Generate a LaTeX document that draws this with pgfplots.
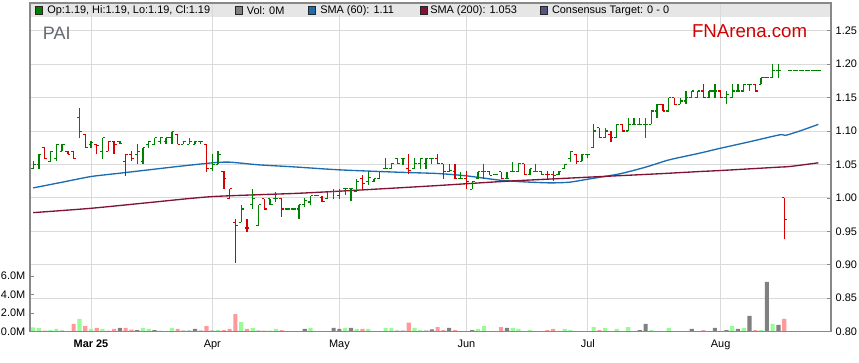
\documentclass[border=0pt]{standalone}
\usepackage{fontspec}
\setmainfont{Liberation Sans}
\usepackage{pgfplots}
\usepackage{pgfplotstable}
\pgfplotsset{compat=1.18}
\definecolor{upg}{RGB}{0,128,0}
\definecolor{dnr}{RGB}{214,0,0}
\definecolor{vg}{RGB}{152,250,152}
\definecolor{vr}{RGB}{255,153,153}
\definecolor{vk}{RGB}{128,128,128}
\definecolor{smab}{RGB}{28,108,178}
\definecolor{smam}{RGB}{128,20,52}
\definecolor{gridc}{RGB}{218,218,218}
\definecolor{framec}{RGB}{136,136,136}
\definecolor{headc}{RGB}{230,230,230}
\definecolor{slate}{RGB}{85,85,130}
\definecolor{fnred}{RGB}{210,0,0}

\pgfplotstableread{
d O H L C
-10 1.0435 1.0545 1.0435 1.05
-9 1.05 1.065 1.0435 1.065
-7 1.0545 1.0695 1.0545 1.0695
-6 1.0585 1.08 1.0545 1.08
-5 1.0695 1.08 1.0695 1.08
-2 1.12 1.135 1.09 1.099
0 1.08 1.085 1.075 1.0825
2 1.07 1.09 1.0585 1.09
5 1.085 1.085 1.08 1.082
8 1.065 1.08 1.05 1.0695
9 1.0545 1.075 1.05 1.075
10 1.08 1.085 1.075 1.085
11 1.08 1.09 1.08 1.09
12 1.085 1.09 1.08 1.09
13 1.085 1.09 1.08 1.09
14 1.09 1.099 1.08 1.099
16 1.08 1.085 1.08 1.085
17 1.08 1.09 1.08 1.085
18 1.08 1.085 1.08 1.085
19 1.085 1.085 1.08 1.085
21 1.0435 1.065 1.04 1.05
22 1.05 1.0695 1.05 1.065
26 0.9635 0.99 0.9635 0.9835
28 0.99 1.0135 0.9835 0.9985
29 0.9585 0.99 0.9585 0.99
31 0.9985 0.9985 0.99 0.99
32 0.9985 1.0085 0.9935 0.9985
34 0.9835 0.9835 0.9835 0.9835
35 0.9835 0.9835 0.9835 0.9835
36 0.9835 0.99 0.9685 0.99
37 0.99 1.0 0.9865 0.9965
38 0.994 1.003 0.989 1.003
39 1.003 1.003 1.003 1.003
41 0.999 1.009 0.999 1.009
42 1.009 1.014 0.999 1.01
43 1.004 1.014 0.999 1.009
44 1.014 1.014 1.004 1.014
45 1.014 1.014 0.996 1.014
46 1.01 1.029 1.009 1.024
48 1.024 1.04 1.02 1.031
49 1.024 1.029 1.024 1.029
50 1.029 1.039 1.029 1.039
51 1.044 1.059 1.044 1.044
52 1.044 1.051 1.044 1.051
53 1.059 1.059 1.051 1.051
54 1.059 1.059 1.049 1.059
56 1.044 1.059 1.044 1.051
57 1.051 1.059 1.044 1.059
58 1.051 1.059 1.044 1.059
59 1.059 1.059 1.051 1.059
62 1.039 1.051 1.039 1.041
64 1.029 1.039 1.029 1.029
66 1.013 1.024 1.013 1.024
67 1.029 1.039 1.029 1.039
68 1.039 1.051 1.029 1.039
70 1.035 1.035 1.035 1.035
72 1.029 1.039 1.029 1.029
73 1.039 1.054 1.039 1.039
74 1.039 1.051 1.039 1.051
76 1.035 1.044 1.035 1.044
77 1.039 1.051 1.039 1.039
78 1.039 1.039 1.035 1.035
81 1.035 1.04 1.035 1.04
82 1.044 1.05 1.044 1.05
83 1.059 1.069 1.054 1.069
85 1.055 1.065 1.055 1.065
86 1.065 1.065 1.06 1.065
87 1.075 1.11 1.075 1.10
89 1.09 1.105 1.09 1.10
91 1.09 1.11 1.09 1.11
93 1.10 1.12 1.10 1.11
94 1.11 1.12 1.11 1.11
95 1.11 1.12 1.11 1.11
96 1.11 1.12 1.09 1.11
97 1.11 1.13 1.11 1.13
98 1.13 1.14 1.12 1.14
100 1.13 1.15 1.13 1.15
102 1.14 1.15 1.14 1.145
103 1.145 1.16 1.14 1.15
104 1.15 1.16 1.15 1.16
105 1.15 1.16 1.15 1.16
107 1.15 1.16 1.15 1.16
108 1.16 1.17 1.15 1.16
110 1.15 1.16 1.14 1.155
111 1.15 1.17 1.15 1.16
112 1.16 1.17 1.16 1.16
113 1.16 1.17 1.16 1.17
114 1.17 1.17 1.16 1.17
116 1.17 1.18 1.17 1.18
117 1.18 1.18 1.18 1.18
118 1.18 1.20 1.18 1.19
119 1.19 1.20 1.18 1.19
121 1.19 1.19 1.19 1.19
122 1.19 1.19 1.19 1.19
123 1.19 1.19 1.19 1.19
124 1.19 1.19 1.19 1.19
125 1.19 1.19 1.19 1.19
126 1.19 1.19 1.19 1.19
}\upbars

\pgfplotstableread{
d O H L C
-8 1.075 1.075 1.0585 1.0585
-4 1.07 1.07 1.065 1.065
-3 1.07 1.07 1.0585 1.0585
-1 1.095 1.095 1.075 1.075
1 1.08 1.08 1.065 1.078
3 1.07 1.085 1.0695 1.085
4 1.085 1.085 1.065 1.08
6 1.0545 1.065 1.0335 1.065
7 1.065 1.0695 1.0545 1.0585
15 1.095 1.095 1.08 1.08
20 1.08 1.08 1.0385 1.0435
23 1.04 1.04 1.0135 1.0285
24 0.9985 1.0135 0.9985 1.0135
25 0.9635 0.9685 0.9025 0.9585
27 0.955 0.9685 0.9485 0.955
30 0.9985 0.9985 0.9835 0.9835
33 0.9985 0.9985 0.972 0.9835
40 1.0 1.003 0.994 0.995
47 1.029 1.034 1.014 1.022
55 1.044 1.066 1.036 1.041
60 1.059 1.065 1.051 1.051
61 1.051 1.051 1.029 1.039
63 1.039 1.05 1.029 1.029
65 1.029 1.04 1.013 1.024
69 1.039 1.039 1.034 1.034
71 1.039 1.039 1.029 1.029
75 1.051 1.051 1.035 1.035
79 1.035 1.04 1.029 1.035
80 1.035 1.04 1.025 1.034
84 1.065 1.065 1.05 1.055
88 1.105 1.105 1.09 1.09
90 1.095 1.10 1.0835 1.09
92 1.11 1.11 1.10 1.10
99 1.14 1.14 1.13 1.13
101 1.15 1.15 1.14 1.14
106 1.16 1.17 1.15 1.15
109 1.16 1.16 1.15 1.15
115 1.17 1.17 1.16 1.16
120 1.00 1.00 0.938 0.968
}\dnbars

\pgfplotstableread{
d v
-10 0.47
-9 0.40
-7 0.18
-6 0.29
-2 1.37
0 0.29
2 0.29
9 0.40
10 0.29
12 0.10
14 0.40
22 0.18
26 1.04
28 0.40
31 0.10
32 0.29
36 0.07
38 0.40
41 0.07
44 0.40
46 0.29
48 0.29
50 0.07
51 0.40
52 0.40
56 0.40
57 0.18
67 0.29
68 0.61
73 0.40
74 0.29
76 0.18
81 0.07
82 0.29
83 0.18
85 0.07
87 0.50
89 0.40
91 0.29
93 0.50
97 0.18
98 0.07
100 0.40
103 0.07
105 0.07
111 0.61
113 0.40
116 0.18
118 0.83
}\volg

\pgfplotstableread{
d v
-8 0.10
-3 0.83
-1 0.61
1 0.40
3 0.10
4 0.29
6 0.40
7 0.22
15 0.29
20 0.61
23 0.18
24 0.29
25 1.90
27 0.29
30 0.10
33 0.18
47 0.29
55 0.97
60 0.50
61 0.18
63 0.18
65 0.07
69 0.07
71 0.50
79 0.18
80 0.29
84 0.07
88 0.18
90 0.07
101 0.07
106 0.18
109 0.07
115 0.18
120 1.37
}\volr

\pgfplotstableread{
d v
-5 0.10
5 0.40
8 0.18
11 0.18
16 0.10
17 0.10
18 0.29
19 0.10
21 0.10
29 0.10
37 0.29
42 0.40
43 0.29
45 0.40
53 0.10
54 0.10
58 0.10
59 0.25
62 0.40
64 0.07
66 0.18
72 0.40
77 0.07
78 0.07
95 0.18
96 0.83
102 0.07
104 0.29
108 0.40
110 0.18
112 0.29
114 1.69
117 5.36
119 0.72
}\volk

\newcommand{\tickfont}{\fontsize{8.2}{9.8}\selectfont}
\newcommand{\legsq}[2]{\filldraw[fill=#2, draw=black!85, line width=0.6pt] (#1,238.3pt) rectangle ++(5.8pt,5.5pt);}

\begin{document}
\begin{tikzpicture}
\path[use as bounding box] (-22.5pt,-23.475pt) rectangle (621.75pt,248.75pt);

% header bar (behind the grid)
\fill[headc] (0,236.25pt) rectangle (600.75pt,246.5pt);

% price axis
\begin{axis}[
  name=price,
  scale only axis, width=600.75pt, height=246.5pt,
  xmin=-10.56, xmax=128.1, ymin=0.80, ymax=1.2915,
  axis line style={framec, line width=0.8pt},
  xtick={0,21,43,65,86,109},
  xticklabels={\textbf{Mar 25},Apr,May,Jun,Jul,Aug},
  xtick style={draw=none},
  x tick label style={font=\tickfont, yshift=-2.7pt, text=black},
  ytick={0.80,0.85,...,1.26},
  ytick pos=right, yticklabel pos=right,
  y tick label style={font=\tickfont, text=black, /pgf/number format/.cd, fixed, fixed zerofill, precision=2, assume math mode=true},
  ytick style={framec, line width=0.6pt},
  tick align=inside, major tick length=3pt,
  grid=major, major grid style={gridc, line width=0.75pt},
  clip=false,
]
% SMA lines
\addplot[smab, line width=1pt, smooth, tension=0.4] coordinates {
(-10,1.015) (-5,1.0235) (0,1.032) (5,1.037) (10,1.042) (15,1.047) (21,1.0525) (24,1.0535) (29,1.0495) (35,1.0465) (43,1.042) (53,1.0385) (60,1.0365) (65,1.033) (70.8,1.0265) (75,1.024) (79.5,1.0225) (82.8,1.0235) (86,1.028) (91.5,1.036) (96,1.046) (100.1,1.057) (105.4,1.067) (108.8,1.074) (114,1.084) (119.3,1.0945) (120.2,1.0935) (123,1.101) (125.9,1.11)};
\addplot[smam, line width=1pt, smooth, tension=0.4] coordinates {
(-10,0.978) (0,0.9845) (10,0.993) (21,1.002) (36,1.007) (48,1.0125) (60,1.0185) (72,1.025) (86,1.031) (98,1.036) (105.4,1.0395) (109,1.041) (119,1.046) (121,1.047) (125.9,1.0525)};

% OHLC bars up
\addplot[upg, line width=0.95pt, quiver={u=0,v=\thisrow{H}-\thisrow{L}}] table[x=d,y=L]{\upbars};
\addplot[upg, line width=0.85pt, quiver={u=0.42,v=0}] table[x expr=\thisrow{d}-0.42,y=O]{\upbars};
\addplot[upg, line width=0.85pt, quiver={u=0.42,v=0}] table[x=d,y=C]{\upbars};
% OHLC bars down
\addplot[dnr, line width=0.95pt, quiver={u=0,v=\thisrow{H}-\thisrow{L}}] table[x=d,y=L]{\dnbars};
\addplot[dnr, line width=0.85pt, quiver={u=0.42,v=0}] table[x expr=\thisrow{d}-0.42,y=O]{\dnbars};
\addplot[dnr, line width=0.85pt, quiver={u=0.42,v=0}] table[x=d,y=C]{\dnbars};
\end{axis}

% volume axis
\begin{axis}[
  name=vol,
  scale only axis, width=600.75pt, height=246.5pt,
  xmin=-10.56, xmax=128.1, ymin=0, ymax=35.4,
  axis line style={draw=none},
  xtick=\empty,
  ytick={0,2,4,6}, yticklabels={0.0M,2.0M,4.0M,6.0M},
  ytick pos=left,
  y tick label style={font=\tickfont, text=black},
  ytick style={framec, line width=0.6pt},
  tick align=inside, major tick length=3pt,
]
\addplot[ybar, bar width=3.1pt, bar shift=0pt, fill=vg, draw=none] table[x=d,y=v]{\volg};
\addplot[ybar, bar width=3.1pt, bar shift=0pt, fill=vr, draw=none] table[x=d,y=v]{\volr};
\addplot[ybar, bar width=3.1pt, bar shift=0pt, fill=vk, draw=none] table[x=d,y=v]{\volk};
\end{axis}

% frame
\draw[framec, line width=0.8pt] (0,0) rectangle (600.75pt,246.5pt);

\legsq{3.75pt}{upg}
\node[anchor=west, inner sep=0pt, font=\tickfont] at (12.75pt,241pt) {Op:1.19, Hi:1.19, Lo:1.19, Cl:1.19};
\legsq{153.75pt}{vk}
\node[anchor=west, inner sep=0pt, font=\tickfont] at (162.5pt,241pt) {Vol: 0M};
\legsq{208.5pt}{smab}
\node[anchor=west, inner sep=0pt, font=\tickfont] at (217.5pt,241pt) {SMA (60): 1.11};
\legsq{292.5pt}{smam}
\node[anchor=west, inner sep=0pt, font=\tickfont] at (300pt,241pt) {SMA (200): 1.053};
\legsq{382.5pt}{slate}
\node[anchor=west, inner sep=0pt, font=\tickfont] at (391.3pt,241pt) {Consensus Target: 0 - 0};

\node[anchor=base west, inner sep=0pt, font=\fontsize{13.5}{16}\selectfont, text={rgb,255:red,100;green,104;blue,112}] at (9.5pt,219.3pt) {PAI};
\node[anchor=base west, inner sep=0pt, font=\fontsize{14}{17}\selectfont, text=fnred] at (496.3pt,220.8pt) {FNArena.com};
\end{tikzpicture}
\end{document}
